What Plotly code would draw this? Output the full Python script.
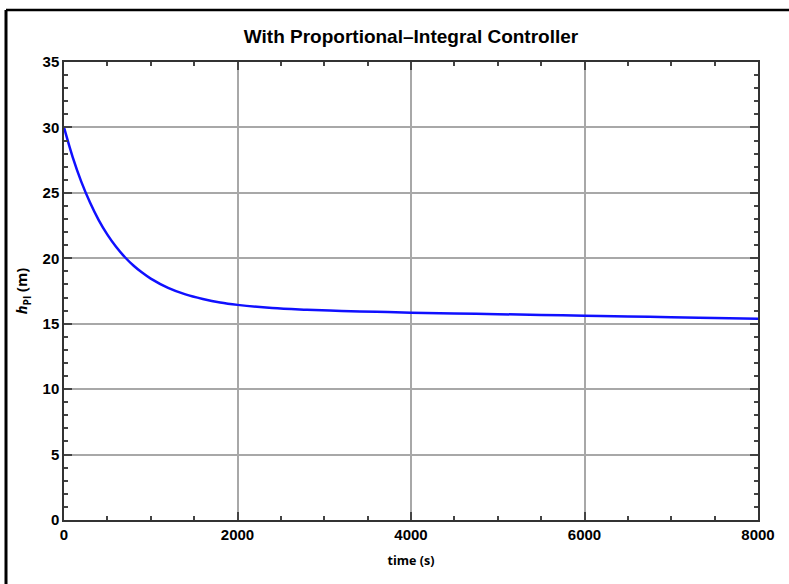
import plotly.graph_objects as go

# time (s) and level h_PI (m)
time_s = [0, 100, 200, 300, 400, 500, 600, 700, 800, 900, 1000, 1200, 1400, 1600,
          1800, 2000, 2400, 2800, 3200, 3600, 4000, 4500, 5000, 5500, 6000, 6500,
          7000, 7500, 8000]
h_pi = [30.0, 27.73, 25.84, 24.26, 22.92, 21.81, 20.88, 20.10, 19.45, 18.91, 18.45,
        17.74, 17.24, 16.89, 16.62, 16.44, 16.20, 16.07, 15.97, 15.91, 15.84, 15.78,
        15.73, 15.67, 15.61, 15.55, 15.50, 15.44, 15.38]

x_ticks = [0, 2000, 4000, 6000, 8000]
y_ticks = [0, 5, 10, 15, 20, 25, 30, 35]

W, H = 789, 584
ML, MR, MT, MB = 64, 31, 62, 64
pw, ph = W - ML - MR, H - MT - MB

fig = go.Figure()
fig.add_trace(go.Scatter(x=time_s, y=h_pi, mode="lines",
                         line=dict(color="#1010ff", width=2.5, shape="spline"),
                         showlegend=False, hoverinfo="skip"))

tick_font = dict(family="Liberation Sans, Arial", size=15, color="black")
axis_common = dict(showline=True, linecolor="#333333", linewidth=1.5, mirror="ticks",
                   ticks="inside", ticklen=8, tickcolor="#444444", tickwidth=1.5,
                   showgrid=True, gridcolor="#a8a8a8", gridwidth=1.5,
                   zeroline=False, tickfont=tick_font)

fig.update_xaxes(range=[0, 8000], tickvals=x_ticks, ticktext=[f"<b>{v}</b>" for v in x_ticks],
                 minor=dict(dtick=500, ticks="inside", ticklen=4, tickcolor="#444444",
                            tickwidth=1.5, showgrid=False),
                 title=dict(text="<b>time (s)</b>", standoff=14,
                            font=dict(family="Open Sans", size=12.5, color="black")),
                 **axis_common)
fig.update_yaxes(range=[0, 35], tickvals=y_ticks, ticktext=[f"<b>{v}</b>" for v in y_ticks],
                 minor=dict(dtick=1, ticks="inside", ticklen=4, tickcolor="#444444",
                            tickwidth=1.5, showgrid=False),
                 title=dict(text="<b><i>h</i><sub>PI</sub> (m)</b>", standoff=11,
                            font=dict(family="Open Sans", size=14.5, color="black")),
                 **axis_common)

# outer frame (left and top edges of the cropped picture border)
x_left = (6 - ML) / pw
y_top = (H - MB - 10) / ph
y_bot = (H - MB - H - 5) / ph
x_right = (W + 5 - ML) / pw
fig.add_shape(type="line", xref="paper", yref="paper", x0=x_left, x1=x_left,
              y0=y_bot, y1=y_top, line=dict(color="black", width=3))
fig.add_shape(type="line", xref="paper", yref="paper", x0=x_left, x1=x_right,
              y0=y_top, y1=y_top, line=dict(color="black", width=2.5))

fig.update_layout(
    width=W, height=H,
    margin=dict(l=ML, r=MR, t=MT, b=MB),
    paper_bgcolor="white", plot_bgcolor="white",
    title=dict(text="<b>With Proportional–Integral Controller</b>", x=(ML + pw / 2) / W,
               xanchor="center", y=1 - 36 / H, yanchor="middle",
               font=dict(family="Liberation Sans, Arial", size=19, color="black")),
)

fig.write_html("out.html", config={"displayModeBar": False},
               post_script="document.body.style.margin='0';document.body.style.overflow='hidden';")
